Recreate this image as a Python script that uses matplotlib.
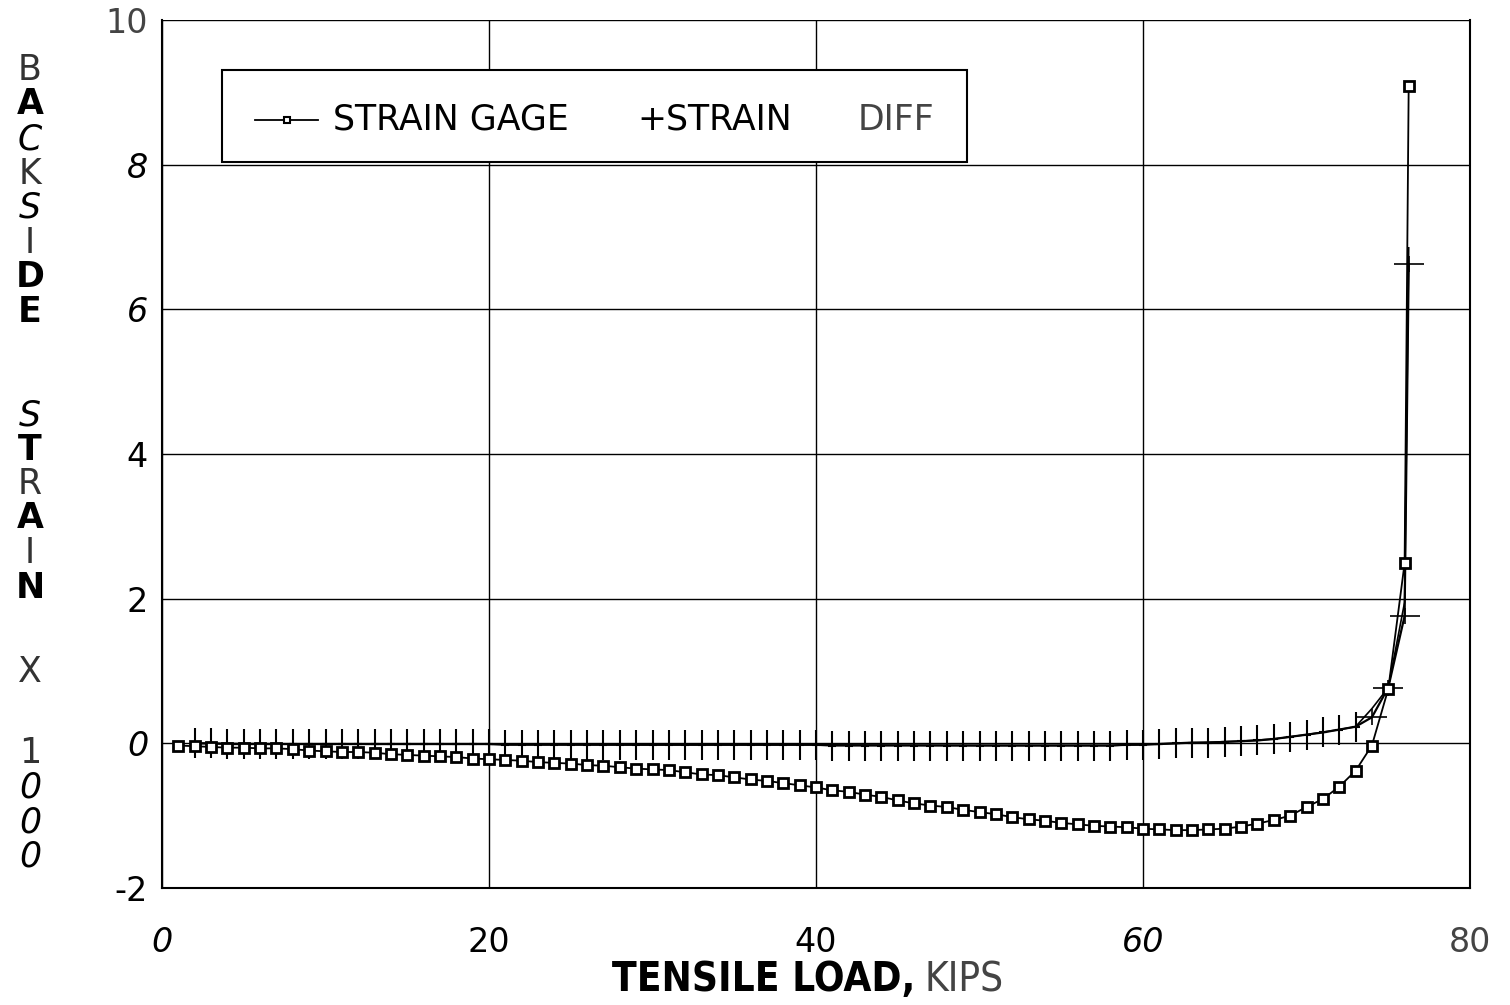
import matplotlib
matplotlib.use("Agg")
import matplotlib.pyplot as plt
from matplotlib.path import Path
from matplotlib.patches import Rectangle
from matplotlib.lines import Line2D

# ---- data -------------------------------------------------------------
# strain gage readings (strain x 1000) vs tensile load (kips)
gage_load = [1, 2, 3, 4, 5, 6, 7, 8, 9, 10, 11, 12, 13, 14, 15, 16, 17, 18, 19, 20,
             21, 22, 23, 24, 25, 26, 27, 28, 29, 30, 31, 32, 33, 34, 35, 36, 37, 38, 39, 40,
             41, 42, 43, 44, 45, 46, 47, 48, 49, 50, 51, 52, 53, 54, 55, 56, 57, 58, 59, 60,
             61, 62, 63, 64, 65, 66, 67, 68, 69, 70, 71, 72, 73, 74, 75, 76.0, 76.25]
gage_strain = [-0.03, -0.04, -0.05, -0.06, -0.06, -0.07, -0.07, -0.08, -0.10, -0.11,
               -0.12, -0.12, -0.13, -0.15, -0.16, -0.17, -0.18, -0.19, -0.21, -0.22,
               -0.23, -0.24, -0.26, -0.27, -0.28, -0.30, -0.31, -0.33, -0.35, -0.36,
               -0.37, -0.40, -0.43, -0.44, -0.47, -0.50, -0.52, -0.55, -0.58, -0.61,
               -0.65, -0.67, -0.71, -0.74, -0.79, -0.83, -0.86, -0.88, -0.92, -0.95,
               -0.98, -1.02, -1.05, -1.07, -1.10, -1.12, -1.14, -1.15, -1.16, -1.18,
               -1.19, -1.20, -1.20, -1.19, -1.18, -1.15, -1.11, -1.06, -1.00, -0.88,
               -0.77, -0.60, -0.38, -0.03, 0.75, 2.49, 9.09]

# +STRAIN readings
plus_load = [2, 3, 4, 5, 6, 7, 8, 9, 10, 11, 12, 13, 14, 15, 16, 17, 18, 19, 20,
             21, 22, 23, 24, 25, 26, 27, 28, 29, 30, 31, 32, 33, 34, 35, 36, 37, 38, 39, 40,
             41, 42, 43, 44, 45, 46, 47, 48, 49, 50, 51, 52, 53, 54, 55, 56, 57, 58, 59, 60,
             61, 62, 63, 64, 65, 66, 67, 68, 69, 70, 71, 72, 73, 74, 75, 76.0, 76.25]
plus_strain = [0.00, 0.00, -0.01, -0.01, -0.01, -0.01, -0.01, -0.01, -0.01, -0.01,
               -0.01, -0.01, -0.01, -0.01, -0.01, -0.01, -0.01, -0.01, -0.01,
               -0.02, -0.02, -0.02, -0.02, -0.02, -0.02, -0.02, -0.02, -0.02, -0.02,
               -0.02, -0.02, -0.02, -0.02, -0.02, -0.02, -0.02, -0.02, -0.02, -0.02,
               -0.03, -0.03, -0.03, -0.03, -0.03, -0.03, -0.03, -0.03, -0.03, -0.03,
               -0.03, -0.03, -0.03, -0.03, -0.03, -0.03, -0.03, -0.03, -0.02, -0.02,
               -0.01, 0.00, 0.01, 0.01, 0.02, 0.03, 0.04, 0.06, 0.09, 0.12,
               0.15, 0.19, 0.23, 0.36, 0.77, 1.76, 6.62]

# DIFF curve
diff_load = [2, 10, 20, 30, 40, 50, 58, 62, 66, 68, 70, 72, 73, 74, 75, 76.0, 76.25]
diff_strain = [0.00, -0.01, -0.01, -0.02, -0.02, -0.03, -0.03, 0.00, 0.03, 0.06,
               0.12, 0.19, 0.23, 0.48, 0.77, 1.95, 6.85]

x_ticks = [0, 20, 40, 60, 80]
x_tick_labels = ["0", "20", "40", "60", "80"]
y_ticks = [-2, 0, 2, 4, 6, 8, 10]
y_tick_labels = ["-2", "0", "2", "4", "6", "8", "10"]

# ---- figure -------------------------------------------------------------
W, H = 1510, 1005
fig = plt.figure(figsize=(W / 100, H / 100), dpi=100)
L, R, T, B = 162, 1470, 20, 888
ax = fig.add_axes([L / W, 1 - B / H, (R - L) / W, (B - T) / H])
ax.set_xlim(0, 80)
ax.set_ylim(-2, 10)

ax.set_xticks(x_ticks)
ax.set_yticks(y_ticks)
ax.set_xticklabels(x_tick_labels)
ax.set_yticklabels(y_tick_labels)
ax.tick_params(axis="both", length=0, labelsize=24)
ax.tick_params(axis="x", pad=27)
ax.tick_params(axis="y", pad=10)
for lab, st in zip(ax.get_xticklabels(), ["italic", "normal", "normal", "italic", "normal"]):
    lab.set_fontstyle(st)
ax.get_xticklabels()[-1].set_color("#444444")
for lab, st in zip(ax.get_yticklabels(), ["normal", "italic", "normal", "normal", "italic", "italic", "normal"]):
    lab.set_fontstyle(st)
ax.get_yticklabels()[-1].set_color("#444444")

ax.grid(True, color="black", linewidth=1.0)
ax.set_axisbelow(True)
for side in ["left", "right", "bottom", "top"]:
    ax.spines[side].set_linewidth(1.5)
ax.spines["top"].set_visible(False)

# plus-shaped markers: tall ones along the flat part, wide ones at the end
tall_plus = Path([(0, -1), (0, 1), (-0.3, 0), (0.3, 0)],
                 [Path.MOVETO, Path.LINETO, Path.MOVETO, Path.LINETO])
wide_plus = Path([(0, -0.55), (0, 0.55), (-1, 0), (1, 0)],
                 [Path.MOVETO, Path.LINETO, Path.MOVETO, Path.LINETO])

ax.plot(diff_load, diff_strain, color="black", linewidth=1.2, zorder=3)
ax.plot(plus_load, plus_strain, color="black", linewidth=1.6, zorder=3)
n_wide = 4
ax.plot(plus_load[:-n_wide], plus_strain[:-n_wide], linestyle="none", marker=tall_plus,
        markersize=21, markeredgecolor="black", markeredgewidth=1.5, zorder=3)
ax.plot(plus_load[-n_wide:], plus_strain[-n_wide:], linestyle="none", marker=wide_plus,
        markersize=22, markeredgecolor="black", markeredgewidth=1.2, zorder=3)
ax.plot(gage_load, gage_strain, color="black", linewidth=1.3, marker="s", markersize=7,
        markerfacecolor="white", markeredgecolor="black", markeredgewidth=2.0, zorder=4)

# legend box
def ax_x(px):
    return (px - L) / (R - L)

def ax_y(py):
    return (B - py) / (B - T)

ax.add_patch(Rectangle((ax_x(222), ax_y(162)), ax_x(967) - ax_x(222), ax_y(70) - ax_y(162),
                       transform=ax.transAxes, facecolor="white", edgecolor="black",
                       linewidth=1.5, zorder=6))
ly = ax_y(120)
ax.add_line(Line2D([ax_x(255), ax_x(318)], [ly, ly], transform=ax.transAxes,
                   color="black", linewidth=1.3, zorder=7))
ax.add_line(Line2D([ax_x(287)], [ly], transform=ax.transAxes, marker="s", markersize=5,
                   markerfacecolor="white", markeredgecolor="black", markeredgewidth=1.5,
                   zorder=8))
ax.text(ax_x(333), ly, "STRAIN GAGE", transform=ax.transAxes, fontsize=25,
        va="center", ha="left", zorder=8)
ax.text(ax_x(637), ly, "+STRAIN", transform=ax.transAxes, fontsize=25,
        va="center", ha="left", zorder=8)
ax.text(ax_x(858), ly, "DIFF", transform=ax.transAxes, fontsize=25, color="#444444",
        va="center", ha="left", zorder=8)

# stacked y-axis title: one letter per row
words = ["BACKSIDE", "STRAIN", "X", "1000"]
word_gaps = [3.0, 2.45, 2.35]       # rows from last letter of a word to first of the next
italic = set("CS0")
bold = set("ADETN")
pitch = 34.5
row = 0.0
for wi, w in enumerate(words):
    for ch in w:
        ypx = 70 + row * pitch
        fig.text(30 / W, 1 - ypx / H, ch, fontsize=25, ha="center", va="center",
                 fontstyle="italic" if ch in italic else "normal",
                 fontweight="bold" if ch in bold else "normal",
                 color="black" if (ch in bold or ch in italic) else "#333333")
        row += 1
    if wi < len(word_gaps):
        row += word_gaps[wi] - 1

# x-axis title
fig.text(915 / W, 1 - 980 / H, "TENSILE LOAD,", fontsize=29, fontweight="bold",
         fontstretch="condensed", ha="right", va="center")
fig.text(925 / W, 1 - 980 / H, "KIPS", fontsize=29, color="#444444",
         fontstretch="condensed", ha="left", va="center")

fig.savefig("out.png", dpi=100, facecolor="white")
